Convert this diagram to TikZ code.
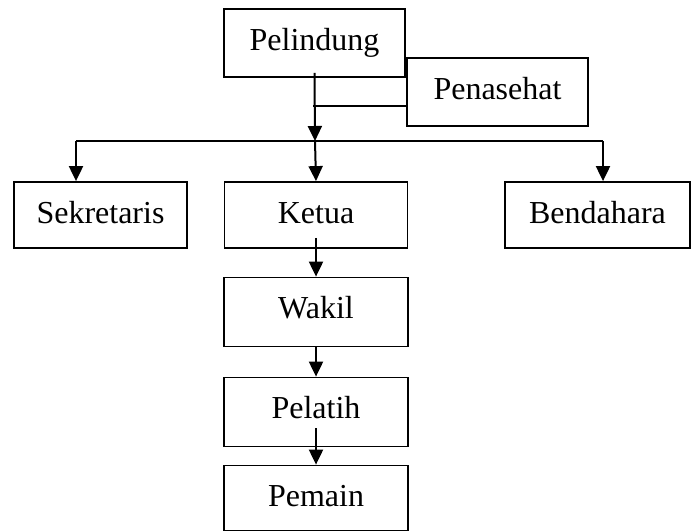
\documentclass[tikz,border=0pt]{standalone}
\usepackage{fontspec}
\setmainfont{Liberation Serif}
\usetikzlibrary{arrows.meta,calc}
\begin{document}
\begin{tikzpicture}[x=1pt,y=-1pt,
  orgbox/.style={draw=black,line width=1.8pt,inner xsep=0pt,inner ysep=0pt,
    text height=41pt,font=\fontsize{32}{38}\selectfont},
  arr/.style={line width=2pt,-{Triangle[width=14pt,length=15pt]}},
  thin/.style={line width=1.4pt}]
\useasboundingbox (0,0) rectangle (692,531);
\node[orgbox,minimum width=181pt,text depth=27pt] (pel) at (314.5,43) {Pelindung};
\node[orgbox,minimum width=181pt,text depth=27pt] (pen) at (497.5,92) {Penasehat};
\node[orgbox,minimum width=173pt,text depth=25pt] (sek) at (100.5,215) {Sekretaris};
\node[orgbox,minimum width=183pt,text depth=25pt] (ket) at (316,215) {Ketua};
\node[orgbox,minimum width=185pt,text depth=25pt] (ben) at (597.5,215) {Bendahara};
\node[orgbox,minimum width=184pt,text depth=28pt] (wak) at (316,312) {Wakil};
\node[orgbox,minimum width=184pt,text depth=28pt] (pla) at (316,412) {Pelatih};
\node[orgbox,minimum width=184pt,text depth=24pt] (pem) at (316,498) {Pemain};
\coordinate (j1) at (315,141);
\coordinate (hl) at (76,141);
\coordinate (hr) at (603,141);
\coordinate (pj) at (313,106);
\draw[thin] (hl) -- (hr);
\draw[line width=1.1pt] (pen.west |- pj) -- (pj);
\draw[arr] ([yshift=5pt]pel.south) -- (j1);
\draw[arr] (j1) -- (ket.north);
\draw[arr] (hl) -- (hl |- sek.north);
\draw[arr] (hr) -- (hr |- ben.north);
\draw[arr] ([yshift=11pt]ket.south) -- (wak.north);
\draw[arr] (wak.south) -- (pla.north);
\draw[arr] ([yshift=19pt]pla.south) -- (pem.north);
\end{tikzpicture}
\end{document}
